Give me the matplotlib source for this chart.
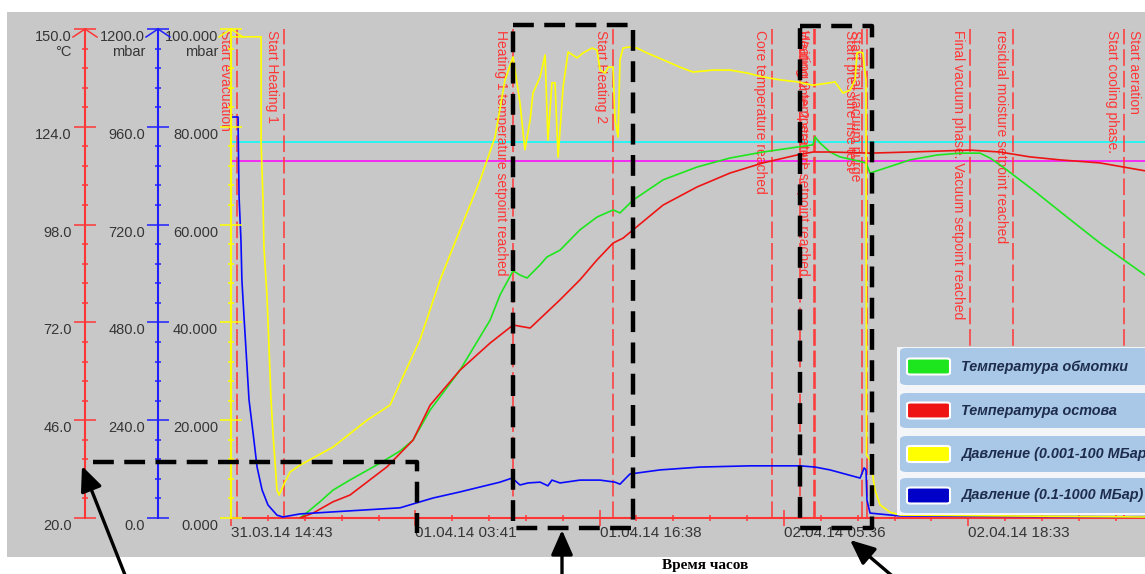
import matplotlib
matplotlib.use("Agg")
import matplotlib.pyplot as plt
import matplotlib.transforms as mtransforms
from matplotlib.lines import Line2D
from matplotlib.patches import Rectangle, FancyBboxPatch, FancyArrowPatch
from matplotlib.ticker import FixedLocator

plt.rcParams["font.family"] = ["Liberation Sans", "DejaVu Sans"]
plt.rcParams["lines.scale_dashes"] = False

W, H, DPI = 1145, 574, 100

# ---------------- data ----------------
# time axis: minutes since 31.03.14 14:43
time_ticks = [0, 778, 1555, 2333, 3110]
time_labels = ["31.03.14 14:43", "01.04.14 03:41", "01.04.14 16:38",
               "02.04.14 05:36", "02.04.14 18:33"]
t_max = 3856

# winding temperature, °C
winding_t = [291, 333, 375, 430, 502, 629, 713, 768, 840, 966, 1093, 1135, 1190,
             1219, 1249, 1304, 1333, 1388, 1472, 1544, 1612, 1641, 1696, 1823,
             1966, 2105, 2244, 2388, 2455, 2464, 2485, 2527, 2569, 2666, 2679,
             2696, 2865, 2979, 3076, 3160, 3202, 3257, 3384, 3527, 3666, 3856]
winding_c = [20.0, 22.1, 24.3, 27.4, 30.1, 34.6, 37.8, 40.7, 48.7, 59.3, 72.6,
             79.3, 85.7, 84.6, 83.8, 87.3, 89.4, 91.2, 96.6, 100.0, 101.9, 101.1,
             104.5, 109.9, 113.3, 115.7, 117.3, 118.6, 119.2, 121.3, 119.7, 117.3,
             116.0, 114.6, 114.4, 111.7, 115.2, 116.5, 117.0, 117.0, 115.7, 113.3,
             107.2, 100.0, 93.1, 84.6]

# frame (core) temperature, °C
frame_t = [291, 346, 430, 502, 658, 768, 840, 966, 1093, 1190, 1262, 1388, 1472,
           1544, 1612, 1654, 1696, 1823, 1966, 2105, 2244, 2388, 2455, 2527, 2696,
           2865, 3118, 3244, 3371, 3498, 3666, 3856]
frame_c = [20.0, 21.3, 24.3, 26.1, 33.6, 40.7, 50.0, 59.3, 66.5, 71.3, 70.5, 78.0,
           83.3, 88.6, 93.1, 94.4, 96.6, 103.2, 108.0, 111.7, 114.4, 116.5, 117.3,
           117.3, 117.0, 117.3, 117.8, 117.3, 116.0, 115.2, 114.4, 112.3]

# pressure, coarse gauge (0.1-1000 mbar)
coarse_t = [8, 30, 30, 34, 42, 46, 55, 76, 93, 110, 131, 156, 194, 219, 291, 430,
            713, 852, 966, 1135, 1186, 1219, 1253, 1304, 1337, 1354, 1388, 1472,
            1557, 1620, 1641, 1683, 1810, 1979, 2190, 2401, 2464, 2527, 2654, 2671,
            2679, 2683, 2696, 2823, 3856]
coarse_p = [984, 984, 960, 788, 682, 584, 493, 290, 209, 125, 69, 32, 7, 2.5, 10,
            15, 25, 49, 64, 88, 98, 81, 86, 88, 79, 93, 86, 93, 93, 88, 83, 108,
            118, 125, 128, 128, 125, 118, 98, 123, 118, 44, 12, 5, 2.5]

# pressure, fine gauge (0.001-100 mbar)
fine_t = [0, 127, 127, 135, 139, 152, 169, 177, 194, 203, 228, 249, 291, 430, 574,
          671, 713, 797, 882, 966, 1051, 1114, 1156, 1190, 1219, 1240, 1262, 1274,
          1304, 1325, 1337, 1354, 1367, 1380, 1401, 1422, 1460, 1485, 1523, 1544,
          1557, 1578, 1591, 1612, 1620, 1633, 1641, 1654, 1675, 1713, 1755, 1823,
          1894, 1949, 2034, 2105, 2177, 2244, 2316, 2388, 2455, 2527, 2548, 2582,
          2612, 2633, 2641, 2654, 2666, 2675, 2679, 2681, 2696, 2704, 2717, 2738,
          2780, 2823, 3856]
fine_p = [98.4, 98.4, 76.7, 65.0, 55.4, 45.2, 24.1, 17.4, 5.7, 4.7, 7.4, 9.4,
          10.8, 14.5, 20.0, 23.1, 27.6, 36.4, 48.7, 58.9, 69.1, 77.9, 89.6, 94.3,
          84.9, 75.3, 81.4, 86.9, 90.2, 94.7, 77.3, 89.0, 89.0, 73.8, 88.1, 95.3,
          94.1, 95.1, 96.1, 95.7, 91.6, 91.0, 92.2, 92.2, 81.4, 77.9, 93.7, 96.1,
          96.3, 96.1, 95.1, 93.7, 92.2, 91.2, 91.6, 91.6, 91.0, 90.2, 89.6, 89.2,
          88.5, 89.0, 89.2, 86.9, 87.5, 89.6, 95.1, 95.3, 95.1, 91.0, 89.6, 12.9,
          11.9, 9.8, 5.7, 2.7, 1.2, 0.6, 0.2]

# temperature setpoints, °C
setpoint_high = 120
setpoint_low = 115

# process events
event_t = [25, 224, 1190, 1612, 2282, 2401, 2458, 2464, 2662, 2683, 3118, 3299,
           3768, 3862]
event_labels = ["Start evacuation", "Start Heating 1",
                "Heating 1 temperature setpoint reached", "Start Heating 2",
                "Core temperature reached", "", "Waiting time 2 started",
                "Heating 2 temperature setpoint reached",
                "Start pressure rise test", "Start final vacuum purge",
                "Final vacuum phase. Vacuum setpoint reached",
                "residual moisture setpoint reached", "Start cooling phase.",
                "Start aeration"]

temp_ticks = [20, 46, 72, 98, 124, 150]
coarse_ticks = [0, 240, 480, 720, 960, 1200]
fine_ticks = [0, 20, 40, 60, 80, 100]

legend_labels = ["Температура обмотки", "Температура остова",
                 "Давление (0.001-100 МБар)", "Давление (0.1-1000 МБар)"]

# ---------------- styling ----------------
RED_AX = "#ff3636"
BLUE_AX = "#2020ff"
YEL_AX = "#ffff00"
C_WIND = "#1ee61e"
C_FRAME = "#ee1414"
C_COARSE = "#0a0aff"
C_FINE = "#ffff00"
TXT = "#353535"

fig = plt.figure(figsize=(W / DPI, H / DPI), dpi=DPI, facecolor="white")


def fx(p):
    return p / W


def fy(p):
    return 1 - p / H


# gray panel of the recorder screen
fig.add_artist(Rectangle((fx(7), fy(557)), fx(1145) - fx(7), fy(12) - fy(557),
                         transform=fig.transFigure, facecolor="#c8c8c8",
                         edgecolor="none", zorder=-10))

x0_px, x1_px, ytop_px, ybot_px = 231, 1145, 29, 518
rect = [fx(x0_px), fy(ybot_px), fx(x1_px) - fx(x0_px), fy(ytop_px) - fy(ybot_px)]
ax_t = fig.add_axes(rect, facecolor="none")
ax_c = fig.add_axes(rect, facecolor="none")
ax_f = fig.add_axes(rect, facecolor="none")

span_px = x1_px - x0_px
axis_defs = [
    (ax_t, RED_AX, 85, (20, 150), temp_ticks, "{:.1f}", "°C"),
    (ax_c, BLUE_AX, 158, (0, 1200), coarse_ticks, "{:.1f}", "mbar"),
    (ax_f, YEL_AX, 231, (0, 100), fine_ticks, "{:.3f}", "mbar"),
]

for ax, col, xpx, lim, ticks, fmt, unit in axis_defs:
    ax.set_xlim(0, t_max)
    ax.set_ylim(*lim)
    for s in ("top", "right", "bottom"):
        ax.spines[s].set_visible(False)
    pos = (xpx - x0_px) / span_px
    ax.spines["left"].set_position(("axes", pos))
    ax.spines["left"].set_color(col)
    ax.spines["left"].set_linewidth(1.5)
    step = (ticks[1] - ticks[0]) / 5
    minors = [ticks[0] + step * k for k in range(26) if k % 5]
    ax.yaxis.set_major_locator(FixedLocator(ticks))
    ax.yaxis.set_minor_locator(FixedLocator(minors))
    ax.tick_params(axis="y", which="major", direction="inout", length=16.5,
                   width=1.1, color=col, labelleft=False)
    ax.tick_params(axis="y", which="minor", direction="inout", length=4.5,
                   width=1.1, color=col)
    ax.set_xticks([])
    # tick labels sit a little below their ticks
    lab_tr = ax.get_yaxis_transform() + mtransforms.ScaledTranslation(
        -13 / DPI, -8 / DPI, fig.dpi_scale_trans)
    for v in ticks:
        ax.text(pos, v, fmt.format(v), transform=lab_tr, ha="right", va="center",
                fontsize=10.5, color=TXT, clip_on=False)
    fig.text(fx(xpx - 13), fy(52), unit, ha="right", va="center",
             fontsize=10.5, color=TXT)
    # arrow head at the top of the scale
    fig.add_artist(Line2D([fx(xpx - 12), fx(xpx), fx(xpx + 12)],
                          [fy(37), fy(29), fy(37)], transform=fig.transFigure,
                          color=col, lw=1.1))

# time axis
ax_t.spines["bottom"].set_visible(True)
ax_t.spines["bottom"].set_color(RED_AX)
ax_t.spines["bottom"].set_linewidth(1.5)
t_minor = []
for i, t in enumerate(time_ticks):
    nxt = time_ticks[i + 1] if i + 1 < len(time_ticks) else t + (time_ticks[1] - time_ticks[0])
    t_minor += [t + (nxt - t) * k / 5 for k in range(1, 5)]
ax_t.xaxis.set_major_locator(FixedLocator(time_ticks))
ax_t.xaxis.set_minor_locator(FixedLocator(t_minor))
ax_t.tick_params(axis="x", which="major", direction="inout", length=11,
                 width=1.1, color=RED_AX, labelbottom=False)
ax_t.tick_params(axis="x", which="minor", direction="inout", length=5,
                 width=1.1, color=RED_AX)
xlab_tr = ax_t.get_xaxis_transform() + mtransforms.ScaledTranslation(
    0, -15 / DPI, fig.dpi_scale_trans)
for t, lab in zip(time_ticks, time_labels):
    ax_t.text(t, 0, lab, transform=xlab_tr, ha="left", va="center",
              fontsize=11, color=TXT, clip_on=False)

# setpoints and event markers
ax_t.axhline(setpoint_high, color="#00ffff", lw=1.1, zorder=1)
ax_t.axhline(setpoint_low, color="#ff00ff", lw=1.1, zorder=1)
for t, lab in zip(event_t, event_labels):
    ax_t.axvline(t, color=RED_AX, lw=1.1, dashes=(12, 3.5), zorder=1)
    if lab:
        ax_t.annotate(lab, xy=(t, 1), xycoords=("data", "axes fraction"),
                      xytext=(-5, -1), textcoords="offset pixels", rotation=-90,
                      ha="right", va="top", fontsize=10, color=RED_AX,
                      annotation_clip=False)

# curves
ax_t.plot(winding_t, winding_c, color=C_WIND, lw=1.2, zorder=3)
ax_t.plot(frame_t, frame_c, color=C_FRAME, lw=1.2, zorder=3)
ax_c.plot(coarse_t, coarse_p, color=C_COARSE, lw=1.2)
ax_f.plot(fine_t, fine_p, color=C_FINE, lw=1.2)

# dashed highlight frames
def dashed(points):
    fig.add_artist(Line2D([fx(p[0]) for p in points], [fy(p[1]) for p in points],
                          transform=fig.transFigure, color="black", lw=3.2,
                          dashes=(15, 7.5), zorder=20))


dashed([(93, 462), (417, 462), (417, 533)])
dashed([(513, 25), (633, 25), (633, 528), (513, 528), (513, 25)])
dashed([(800, 26), (872, 26), (872, 528), (800, 528), (800, 26)])

# pointer arrows
for tail, head in [((127, 580), (82, 466)), ((562, 580), (562, 530)),
                   ((897, 580), (850, 540))]:
    fig.add_artist(FancyArrowPatch((fx(tail[0]), fy(tail[1])),
                                   (fx(head[0]), fy(head[1])),
                                   transform=fig.transFigure,
                                   arrowstyle="-|>,head_length=0.5,head_width=0.22",
                                   mutation_scale=30, lw=2.4, color="black",
                                   shrinkA=0, shrinkB=0, zorder=21))

fig.text(fx(705), fy(565), "Время часов", ha="center", va="center",
         family=["Liberation Serif", "DejaVu Serif"], weight="bold",
         fontsize=11, color="black")

# legend panel
fig.add_artist(Rectangle((fx(897), fy(515)), fx(1150) - fx(897), fy(347) - fy(515),
                         transform=fig.transFigure, facecolor="#f3f5f9",
                         edgecolor="none", zorder=30))
rows = [(348, 385), (393, 428), (436, 472), (478, 513)]
for (ya, yb), lab, col in zip(rows, legend_labels,
                              [C_WIND, C_FRAME, C_FINE, "#0000c8"]):
    fig.add_artist(FancyBboxPatch((fx(900), fy(yb)), fx(1160) - fx(900),
                                  fy(ya) - fy(yb),
                                  boxstyle="round,pad=0,rounding_size=0.006",
                                  transform=fig.transFigure, facecolor="#a9c7e6",
                                  edgecolor="none", zorder=31))
    yc = (ya + yb) / 2
    fig.add_artist(FancyBboxPatch((fx(907), fy(yc + 8)), fx(950) - fx(907),
                                  fy(yc - 8) - fy(yc + 8),
                                  boxstyle="round,pad=0,rounding_size=0.003",
                                  transform=fig.transFigure, facecolor=col,
                                  edgecolor="white", lw=1.5, zorder=32))
    fig.text(fx(961), fy(yc), lab, ha="left", va="center", fontsize=10.4,
             weight="bold", style="italic", color="#1e2d4d", zorder=33)

fig.savefig("out.png", dpi=DPI, facecolor="white")
